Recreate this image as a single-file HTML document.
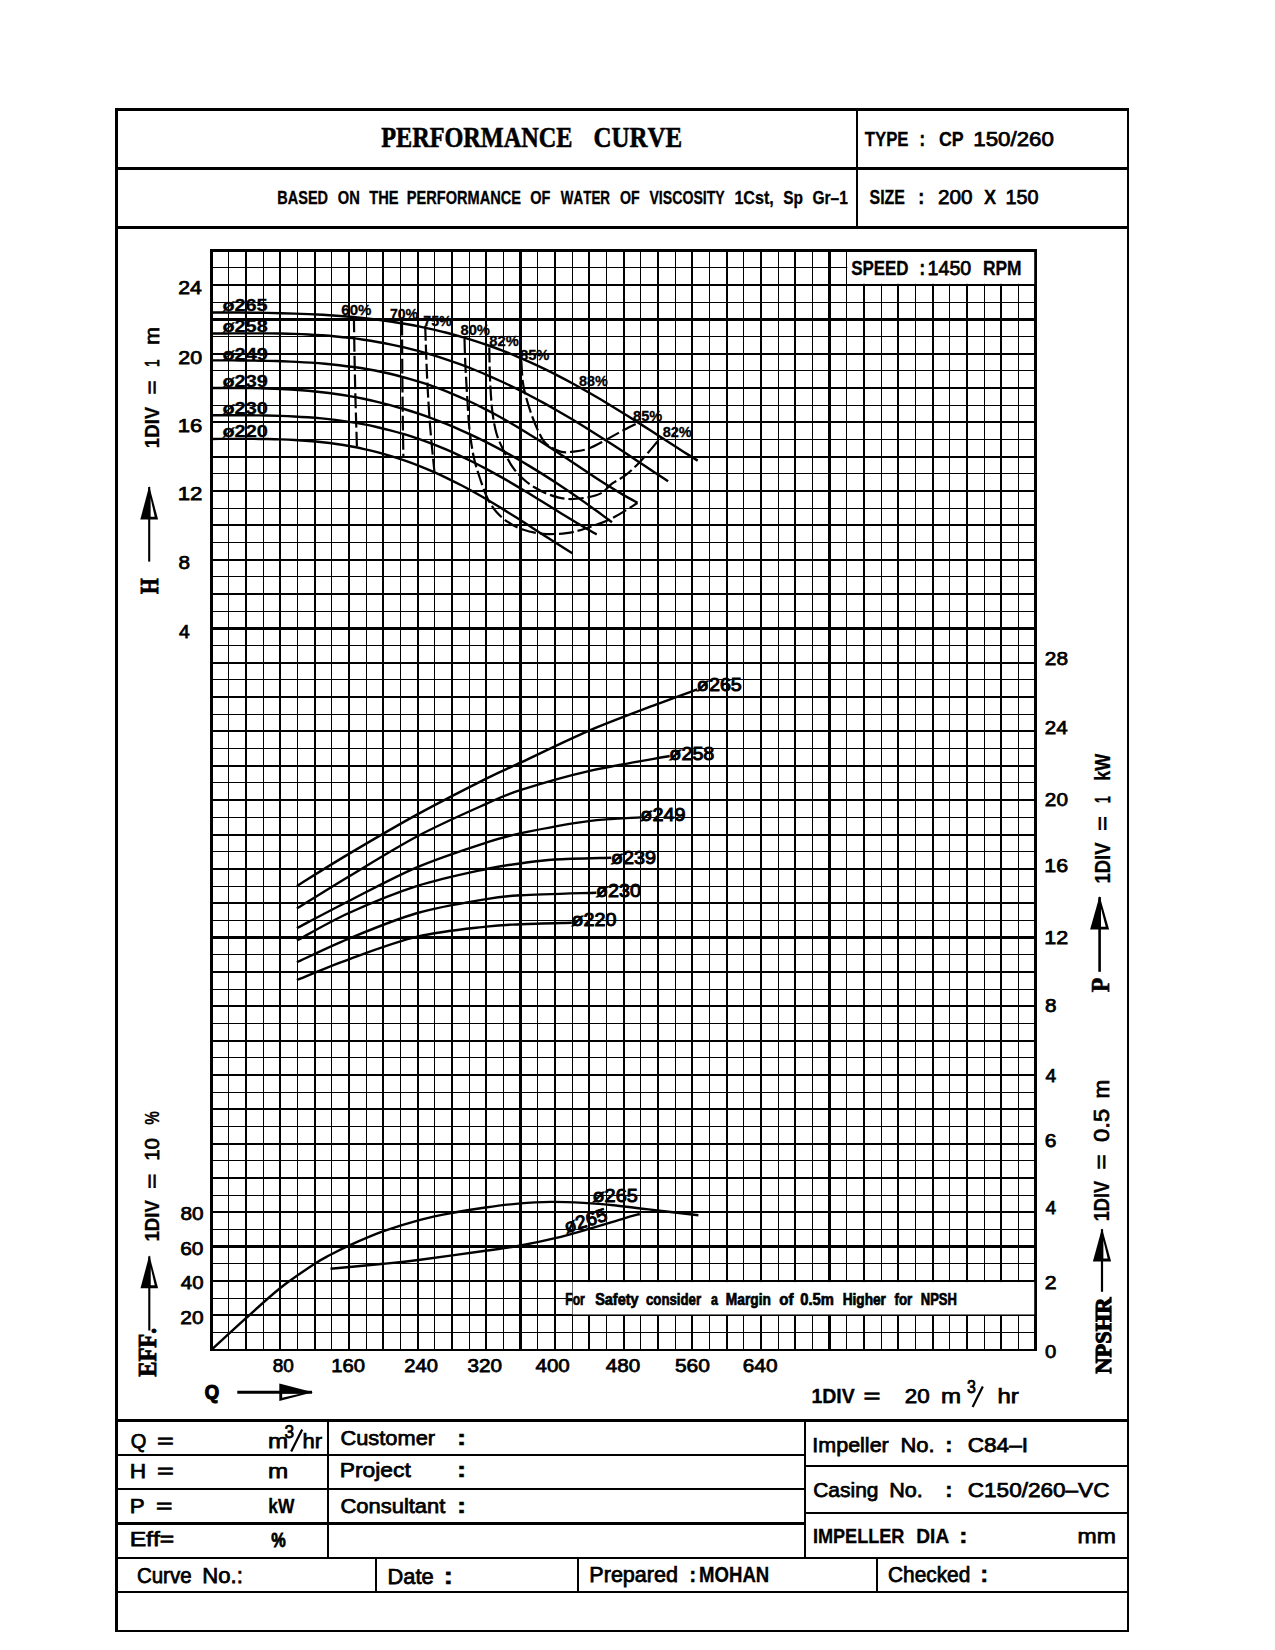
<!DOCTYPE html>
<html lang="en"><head><meta charset="utf-8"><title>Performance Curve CP 150/260</title>
<style>
html,body{margin:0;padding:0;background:#fff;}
body{width:1275px;height:1650px;overflow:hidden;}
svg{display:block;position:absolute;left:0;top:0;}
text{white-space:pre;fill:#000;font-kerning:none;}
.s{font-family:"Liberation Sans",sans-serif;font-weight:400;stroke:#000;stroke-width:0.75px;}
.b{font-family:"Liberation Sans",sans-serif;font-weight:700;stroke:#000;stroke-width:0.3px;}
.r{font-family:"Liberation Serif",serif;font-weight:700;stroke:#000;stroke-width:0.6px;}
.g line,.fr line{stroke:#000;shape-rendering:crispEdges;}
.cv path{stroke:#000;fill:none;stroke-linecap:butt;stroke-linejoin:round;}
</style></head><body>
<svg width="1275" height="1650" viewBox="0 0 1275 1650">
<rect x="0" y="0" width="1275" height="1650" fill="#fff"/>
<g class="fr">
<line x1="116.5" y1="108" x2="116.5" y2="1632" stroke-width="3"/>
<line x1="1128" y1="108" x2="1128" y2="1632" stroke-width="2"/>
<line x1="116.5" y1="109.5" x2="1128" y2="109.5" stroke-width="3"/>
<line x1="116.5" y1="1631" x2="1128" y2="1631" stroke-width="2"/>
<line x1="116.5" y1="168.5" x2="1128" y2="168.5" stroke-width="3"/>
<line x1="116.5" y1="227.5" x2="1128" y2="227.5" stroke-width="3"/>
<line x1="857" y1="109.5" x2="857" y2="227.3" stroke-width="2"/>
<line x1="116.5" y1="1420.5" x2="1128" y2="1420.5" stroke-width="3"/>
<line x1="116.5" y1="1455" x2="805" y2="1455" stroke-width="2"/>
<line x1="116.5" y1="1488.8" x2="805" y2="1488.8" stroke-width="2"/>
<line x1="116.5" y1="1523.4" x2="805" y2="1523.4" stroke-width="2.4"/>
<line x1="116.5" y1="1558.2" x2="1128" y2="1558.2" stroke-width="2"/>
<line x1="116.5" y1="1591.8" x2="1128" y2="1591.8" stroke-width="2"/>
<line x1="805" y1="1465.6" x2="1128" y2="1465.6" stroke-width="2"/>
<line x1="805" y1="1513" x2="1128" y2="1513" stroke-width="2"/>
<line x1="328" y1="1420.6" x2="328" y2="1558.2" stroke-width="2"/>
<line x1="805" y1="1420.6" x2="805" y2="1558.2" stroke-width="2"/>
<line x1="375.7" y1="1558.2" x2="375.7" y2="1591.8" stroke-width="2"/>
<line x1="578" y1="1558.2" x2="578" y2="1591.8" stroke-width="2"/>
<line x1="876.8" y1="1558.2" x2="876.8" y2="1591.8" stroke-width="2"/>
</g>
<g class="g">
<line x1="211.5" y1="249" x2="211.5" y2="1350.8" stroke-width="3"/>
<line x1="228.67" y1="249" x2="228.67" y2="1350.8" stroke-width="1"/>
<line x1="245.84" y1="249" x2="245.84" y2="1350.8" stroke-width="2"/>
<line x1="263.01" y1="249" x2="263.01" y2="1350.8" stroke-width="1"/>
<line x1="280.18" y1="249" x2="280.18" y2="1350.8" stroke-width="2"/>
<line x1="297.35" y1="249" x2="297.35" y2="1350.8" stroke-width="1"/>
<line x1="314.52" y1="249" x2="314.52" y2="1350.8" stroke-width="2"/>
<line x1="331.7" y1="249" x2="331.7" y2="1350.8" stroke-width="1"/>
<line x1="348.87" y1="249" x2="348.87" y2="1350.8" stroke-width="2"/>
<line x1="366.04" y1="249" x2="366.04" y2="1350.8" stroke-width="1"/>
<line x1="383.21" y1="249" x2="383.21" y2="1350.8" stroke-width="2"/>
<line x1="400.38" y1="249" x2="400.38" y2="1350.8" stroke-width="1"/>
<line x1="417.55" y1="249" x2="417.55" y2="1350.8" stroke-width="2"/>
<line x1="434.72" y1="249" x2="434.72" y2="1350.8" stroke-width="1"/>
<line x1="451.89" y1="249" x2="451.89" y2="1350.8" stroke-width="2"/>
<line x1="469.06" y1="249" x2="469.06" y2="1350.8" stroke-width="1"/>
<line x1="486.23" y1="249" x2="486.23" y2="1350.8" stroke-width="2"/>
<line x1="503.4" y1="249" x2="503.4" y2="1350.8" stroke-width="1"/>
<line x1="520.58" y1="249" x2="520.58" y2="1350.8" stroke-width="2.8"/>
<line x1="537.75" y1="249" x2="537.75" y2="1350.8" stroke-width="1"/>
<line x1="554.92" y1="249" x2="554.92" y2="1350.8" stroke-width="2"/>
<line x1="572.09" y1="249" x2="572.09" y2="1350.8" stroke-width="1"/>
<line x1="589.26" y1="249" x2="589.26" y2="1350.8" stroke-width="2"/>
<line x1="606.43" y1="249" x2="606.43" y2="1350.8" stroke-width="1"/>
<line x1="623.6" y1="249" x2="623.6" y2="1350.8" stroke-width="2"/>
<line x1="640.77" y1="249" x2="640.77" y2="1350.8" stroke-width="1"/>
<line x1="657.94" y1="249" x2="657.94" y2="1350.8" stroke-width="2"/>
<line x1="675.11" y1="249" x2="675.11" y2="1350.8" stroke-width="1"/>
<line x1="692.28" y1="249" x2="692.28" y2="1350.8" stroke-width="2"/>
<line x1="709.45" y1="249" x2="709.45" y2="1350.8" stroke-width="1"/>
<line x1="726.62" y1="249" x2="726.62" y2="1350.8" stroke-width="2"/>
<line x1="743.8" y1="249" x2="743.8" y2="1350.8" stroke-width="1"/>
<line x1="760.97" y1="249" x2="760.97" y2="1350.8" stroke-width="2"/>
<line x1="778.14" y1="249" x2="778.14" y2="1350.8" stroke-width="1"/>
<line x1="795.31" y1="249" x2="795.31" y2="1350.8" stroke-width="2"/>
<line x1="812.48" y1="249" x2="812.48" y2="1350.8" stroke-width="1"/>
<line x1="829.65" y1="249" x2="829.65" y2="1350.8" stroke-width="2.8"/>
<line x1="846.82" y1="249" x2="846.82" y2="1350.8" stroke-width="1"/>
<line x1="863.99" y1="249" x2="863.99" y2="1350.8" stroke-width="2"/>
<line x1="881.16" y1="249" x2="881.16" y2="1350.8" stroke-width="1"/>
<line x1="898.33" y1="249" x2="898.33" y2="1350.8" stroke-width="2"/>
<line x1="915.5" y1="249" x2="915.5" y2="1350.8" stroke-width="1"/>
<line x1="932.68" y1="249" x2="932.68" y2="1350.8" stroke-width="2"/>
<line x1="949.85" y1="249" x2="949.85" y2="1350.8" stroke-width="1"/>
<line x1="967.02" y1="249" x2="967.02" y2="1350.8" stroke-width="2"/>
<line x1="984.19" y1="249" x2="984.19" y2="1350.8" stroke-width="1"/>
<line x1="1001.36" y1="249" x2="1001.36" y2="1350.8" stroke-width="2"/>
<line x1="1018.53" y1="249" x2="1018.53" y2="1350.8" stroke-width="1"/>
<line x1="1035.7" y1="249" x2="1035.7" y2="1350.8" stroke-width="3"/>
<line x1="210" y1="250.5" x2="1037.2" y2="250.5" stroke-width="3"/>
<line x1="210" y1="267.68" x2="1037.2" y2="267.68" stroke-width="1"/>
<line x1="210" y1="284.85" x2="1037.2" y2="284.85" stroke-width="2"/>
<line x1="210" y1="302.03" x2="1037.2" y2="302.03" stroke-width="1"/>
<line x1="210" y1="319.21" x2="1037.2" y2="319.21" stroke-width="2.8"/>
<line x1="210" y1="336.38" x2="1037.2" y2="336.38" stroke-width="1"/>
<line x1="210" y1="353.56" x2="1037.2" y2="353.56" stroke-width="2"/>
<line x1="210" y1="370.74" x2="1037.2" y2="370.74" stroke-width="1"/>
<line x1="210" y1="387.91" x2="1037.2" y2="387.91" stroke-width="2"/>
<line x1="210" y1="405.09" x2="1037.2" y2="405.09" stroke-width="1"/>
<line x1="210" y1="422.27" x2="1037.2" y2="422.27" stroke-width="2"/>
<line x1="210" y1="439.44" x2="1037.2" y2="439.44" stroke-width="1"/>
<line x1="210" y1="456.62" x2="1037.2" y2="456.62" stroke-width="2"/>
<line x1="210" y1="473.8" x2="1037.2" y2="473.8" stroke-width="1"/>
<line x1="210" y1="490.97" x2="1037.2" y2="490.97" stroke-width="2"/>
<line x1="210" y1="508.15" x2="1037.2" y2="508.15" stroke-width="1"/>
<line x1="210" y1="525.33" x2="1037.2" y2="525.33" stroke-width="2"/>
<line x1="210" y1="542.5" x2="1037.2" y2="542.5" stroke-width="1"/>
<line x1="210" y1="559.68" x2="1037.2" y2="559.68" stroke-width="2"/>
<line x1="210" y1="576.85" x2="1037.2" y2="576.85" stroke-width="1"/>
<line x1="210" y1="594.03" x2="1037.2" y2="594.03" stroke-width="2"/>
<line x1="210" y1="611.21" x2="1037.2" y2="611.21" stroke-width="1"/>
<line x1="210" y1="628.38" x2="1037.2" y2="628.38" stroke-width="2.8"/>
<line x1="210" y1="645.56" x2="1037.2" y2="645.56" stroke-width="1"/>
<line x1="210" y1="662.74" x2="1037.2" y2="662.74" stroke-width="2"/>
<line x1="210" y1="679.91" x2="1037.2" y2="679.91" stroke-width="1"/>
<line x1="210" y1="697.09" x2="1037.2" y2="697.09" stroke-width="2"/>
<line x1="210" y1="714.27" x2="1037.2" y2="714.27" stroke-width="1"/>
<line x1="210" y1="731.44" x2="1037.2" y2="731.44" stroke-width="2"/>
<line x1="210" y1="748.62" x2="1037.2" y2="748.62" stroke-width="1"/>
<line x1="210" y1="765.8" x2="1037.2" y2="765.8" stroke-width="2"/>
<line x1="210" y1="782.97" x2="1037.2" y2="782.97" stroke-width="1"/>
<line x1="210" y1="800.15" x2="1037.2" y2="800.15" stroke-width="2"/>
<line x1="210" y1="817.33" x2="1037.2" y2="817.33" stroke-width="1"/>
<line x1="210" y1="834.5" x2="1037.2" y2="834.5" stroke-width="2"/>
<line x1="210" y1="851.68" x2="1037.2" y2="851.68" stroke-width="1"/>
<line x1="210" y1="868.86" x2="1037.2" y2="868.86" stroke-width="2"/>
<line x1="210" y1="886.03" x2="1037.2" y2="886.03" stroke-width="1"/>
<line x1="210" y1="903.21" x2="1037.2" y2="903.21" stroke-width="2"/>
<line x1="210" y1="920.39" x2="1037.2" y2="920.39" stroke-width="1"/>
<line x1="210" y1="937.56" x2="1037.2" y2="937.56" stroke-width="2.8"/>
<line x1="210" y1="954.74" x2="1037.2" y2="954.74" stroke-width="1"/>
<line x1="210" y1="971.92" x2="1037.2" y2="971.92" stroke-width="2"/>
<line x1="210" y1="989.09" x2="1037.2" y2="989.09" stroke-width="1"/>
<line x1="210" y1="1006.27" x2="1037.2" y2="1006.27" stroke-width="2"/>
<line x1="210" y1="1023.45" x2="1037.2" y2="1023.45" stroke-width="1"/>
<line x1="210" y1="1040.62" x2="1037.2" y2="1040.62" stroke-width="2"/>
<line x1="210" y1="1057.8" x2="1037.2" y2="1057.8" stroke-width="1"/>
<line x1="210" y1="1074.97" x2="1037.2" y2="1074.97" stroke-width="2"/>
<line x1="210" y1="1092.15" x2="1037.2" y2="1092.15" stroke-width="1"/>
<line x1="210" y1="1109.33" x2="1037.2" y2="1109.33" stroke-width="2"/>
<line x1="210" y1="1126.5" x2="1037.2" y2="1126.5" stroke-width="1"/>
<line x1="210" y1="1143.68" x2="1037.2" y2="1143.68" stroke-width="2"/>
<line x1="210" y1="1160.86" x2="1037.2" y2="1160.86" stroke-width="1"/>
<line x1="210" y1="1178.03" x2="1037.2" y2="1178.03" stroke-width="2"/>
<line x1="210" y1="1195.21" x2="1037.2" y2="1195.21" stroke-width="1"/>
<line x1="210" y1="1212.39" x2="1037.2" y2="1212.39" stroke-width="2"/>
<line x1="210" y1="1229.56" x2="1037.2" y2="1229.56" stroke-width="1"/>
<line x1="210" y1="1246.74" x2="1037.2" y2="1246.74" stroke-width="2.8"/>
<line x1="210" y1="1263.92" x2="1037.2" y2="1263.92" stroke-width="1"/>
<line x1="210" y1="1281.09" x2="1037.2" y2="1281.09" stroke-width="2"/>
<line x1="210" y1="1298.27" x2="1037.2" y2="1298.27" stroke-width="1"/>
<line x1="210" y1="1315.45" x2="1037.2" y2="1315.45" stroke-width="2"/>
<line x1="210" y1="1332.62" x2="1037.2" y2="1332.62" stroke-width="1"/>
<line x1="210" y1="1349.8" x2="1037.2" y2="1349.8" stroke-width="2.2"/>
</g>
<rect x="847.32" y="252" width="186.88" height="31.85" fill="#fff"/>
<rect x="572.59" y="1282.09" width="461.61" height="32.35" fill="#fff"/>
<g class="cv">
<path d="M211.5 312.48C213.82 312.49 220.76 312.49 225.39 312.5C230.02 312.52 234.65 312.54 239.28 312.57C243.91 312.6 248.54 312.64 253.17 312.7C257.8 312.75 262.44 312.81 267.07 312.9C271.7 312.98 276.33 313.07 280.96 313.19C285.59 313.3 290.22 313.43 294.85 313.59C299.48 313.74 304.11 313.92 308.74 314.12C313.37 314.33 318 314.56 322.63 314.82C327.26 315.09 331.89 315.38 336.52 315.71C341.15 316.04 345.78 316.4 350.41 316.81C355.04 317.22 359.68 317.66 364.31 318.16C368.94 318.65 373.57 319.19 378.2 319.78C382.83 320.37 387.46 321.01 392.09 321.71C396.72 322.41 401.35 323.15 405.98 323.97C410.61 324.78 415.24 325.64 419.87 326.58C424.5 327.51 429.13 328.51 433.76 329.57C438.39 330.64 443.02 331.77 447.65 332.97C452.28 334.17 456.92 335.44 461.55 336.79C466.18 338.13 470.81 339.55 475.44 341.04C480.07 342.54 484.7 344.1 489.33 345.75C493.96 347.39 498.59 349.11 503.22 350.91C507.85 352.7 512.48 354.58 517.11 356.53C521.74 358.48 526.37 360.5 531 362.6C535.63 364.7 540.26 366.88 544.89 369.12C549.52 371.37 554.16 373.69 558.79 376.08C563.42 378.47 568.05 380.93 572.68 383.45C577.31 385.96 581.94 388.55 586.57 391.19C591.2 393.83 595.83 396.54 600.46 399.28C605.09 402.03 609.72 404.84 614.35 407.68C618.98 410.51 623.61 413.4 628.24 416.31C632.87 419.22 637.5 422.17 642.13 425.13C646.76 428.09 651.4 431.08 656.03 434.06C660.66 437.04 665.29 440.04 669.92 443.02C674.55 445.99 679.18 448.97 683.81 451.91C688.44 454.84 695.38 459.17 697.7 460.62" stroke-width="2.4"/>
<path d="M211.5 333.49C213.81 333.48 220.72 333.47 225.34 333.45C229.95 333.43 234.56 333.4 239.17 333.38C243.78 333.36 248.4 333.34 253.01 333.34C257.62 333.34 262.23 333.34 266.85 333.38C271.46 333.41 276.07 333.46 280.68 333.55C285.29 333.63 289.91 333.74 294.52 333.9C299.13 334.05 303.74 334.23 308.35 334.47C312.97 334.7 317.58 334.98 322.19 335.31C326.8 335.64 331.42 336.01 336.03 336.44C340.64 336.88 345.25 337.37 349.86 337.92C354.48 338.47 359.09 339.08 363.7 339.75C368.31 340.43 372.92 341.17 377.54 341.98C382.15 342.79 386.76 343.66 391.37 344.61C395.98 345.56 400.6 346.58 405.21 347.68C409.82 348.77 414.43 349.94 419.05 351.18C423.66 352.42 428.27 353.74 432.88 355.14C437.49 356.53 442.11 358 446.72 359.55C451.33 361.1 455.94 362.72 460.55 364.42C465.17 366.13 469.78 367.9 474.39 369.76C479 371.61 483.62 373.54 488.23 375.54C492.84 377.54 497.45 379.62 502.06 381.76C506.68 383.91 511.29 386.13 515.9 388.41C520.51 390.7 525.12 393.05 529.74 395.47C534.35 397.89 538.96 400.37 543.57 402.91C548.18 405.45 552.8 408.06 557.41 410.71C562.02 413.37 566.63 416.08 571.25 418.84C575.86 421.6 580.47 424.41 585.08 427.26C589.69 430.1 594.31 433 598.92 435.93C603.53 438.85 608.14 441.81 612.75 444.8C617.37 447.78 621.98 450.8 626.59 453.83C631.2 456.86 635.82 459.91 640.43 462.96C645.04 466.02 649.65 469.09 654.26 472.14C658.88 475.2 665.79 479.78 668.1 481.31" stroke-width="2.4"/>
<path d="M211.5 360.36C213.87 360.37 220.97 360.37 225.7 360.38C230.43 360.4 235.17 360.42 239.9 360.46C244.63 360.5 249.37 360.54 254.1 360.61C258.83 360.68 263.57 360.76 268.3 360.87C273.03 360.98 277.77 361.1 282.5 361.27C287.23 361.43 291.97 361.62 296.7 361.85C301.43 362.09 306.17 362.35 310.9 362.67C315.63 362.99 320.37 363.35 325.1 363.78C329.83 364.2 334.57 364.67 339.3 365.21C344.03 365.75 348.77 366.35 353.5 367.03C358.23 367.71 362.97 368.45 367.7 369.28C372.43 370.11 377.17 371.01 381.9 372.01C386.63 373 391.37 374.08 396.1 375.25C400.83 376.43 405.57 377.69 410.3 379.06C415.03 380.42 419.77 381.88 424.5 383.44C429.23 385.01 433.97 386.67 438.7 388.44C443.43 390.2 448.17 392.07 452.9 394.05C457.63 396.02 462.37 398.1 467.1 400.28C471.83 402.46 476.57 404.74 481.3 407.11C486.03 409.49 490.77 411.97 495.5 414.53C500.23 417.09 504.97 419.76 509.7 422.49C514.43 425.22 519.17 428.05 523.9 430.94C528.63 433.82 533.37 436.79 538.1 439.79C542.83 442.8 547.57 445.87 552.3 448.96C557.03 452.06 561.77 455.2 566.5 458.34C571.23 461.48 575.97 464.65 580.7 467.79C585.43 470.92 590.17 474.07 594.9 477.15C599.63 480.22 604.37 483.29 609.1 486.23C613.83 489.18 618.57 492.09 623.3 494.84C628.03 497.59 635.13 501.42 637.5 502.73" stroke-width="2.4"/>
<path d="M211.5 387.98C213.8 387.98 220.71 387.97 225.31 387.98C229.91 387.99 234.52 387.99 239.12 388.01C243.72 388.04 248.33 388.08 252.93 388.15C257.53 388.23 262.14 388.32 266.74 388.45C271.34 388.59 275.95 388.75 280.55 388.96C285.16 389.18 289.76 389.43 294.36 389.73C298.97 390.04 303.57 390.39 308.17 390.81C312.78 391.22 317.38 391.69 321.98 392.22C326.59 392.75 331.19 393.34 335.79 394C340.4 394.66 345 395.38 349.6 396.18C354.21 396.98 358.81 397.84 363.41 398.78C368.02 399.72 372.62 400.73 377.22 401.82C381.83 402.91 386.43 404.07 391.03 405.31C395.64 406.55 400.24 407.87 404.84 409.26C409.45 410.66 414.05 412.14 418.66 413.69C423.26 415.25 427.86 416.88 432.47 418.59C437.07 420.31 441.67 422.1 446.28 423.97C450.88 425.84 455.48 427.79 460.09 429.82C464.69 431.85 469.29 433.95 473.9 436.14C478.5 438.32 483.1 440.58 487.71 442.91C492.31 445.25 496.91 447.66 501.52 450.14C506.12 452.62 510.72 455.18 515.33 457.81C519.93 460.43 524.53 463.13 529.14 465.89C533.74 468.66 538.34 471.49 542.95 474.39C547.55 477.29 552.16 480.25 556.76 483.27C561.36 486.3 565.97 489.39 570.57 492.53C575.17 495.67 579.78 498.88 584.38 502.14C588.98 505.39 593.59 508.71 598.19 512.07C602.79 515.44 609.7 520.61 612 522.32" stroke-width="2.4"/>
<path d="M211.5 415.21C213.79 415.21 220.67 415.2 225.26 415.2C229.84 415.21 234.43 415.21 239.01 415.23C243.6 415.25 248.19 415.27 252.77 415.31C257.36 415.36 261.94 415.42 266.53 415.51C271.11 415.61 275.7 415.72 280.29 415.88C284.87 416.03 289.46 416.21 294.04 416.45C298.63 416.68 303.21 416.95 307.8 417.28C312.39 417.61 316.97 417.98 321.56 418.42C326.14 418.86 330.73 419.35 335.31 419.92C339.9 420.48 344.49 421.11 349.07 421.82C353.66 422.52 358.24 423.3 362.83 424.16C367.41 425.02 372 425.96 376.59 426.99C381.17 428.02 385.76 429.13 390.34 430.33C394.93 431.53 399.51 432.82 404.1 434.21C408.69 435.59 413.27 437.07 417.86 438.64C422.44 440.21 427.03 441.88 431.61 443.64C436.2 445.4 440.79 447.25 445.37 449.2C449.96 451.14 454.54 453.18 459.13 455.31C463.71 457.43 468.3 459.65 472.89 461.95C477.47 464.24 482.06 466.63 486.64 469.08C491.23 471.53 495.81 474.06 500.4 476.65C504.99 479.23 509.57 481.9 514.16 484.59C518.74 487.29 523.33 490.06 527.91 492.84C532.5 495.62 537.09 498.46 541.67 501.29C546.26 504.11 550.84 506.98 555.43 509.82C560.01 512.65 564.6 515.51 569.19 518.3C573.77 521.1 578.36 523.89 582.94 526.59C587.53 529.29 594.41 533.18 596.7 534.5" stroke-width="2.4"/>
<path d="M211.5 438.93C213.81 438.93 220.75 438.92 225.38 438.91C230 438.9 234.63 438.87 239.25 438.87C243.88 438.87 248.51 438.87 253.13 438.9C257.76 438.93 262.38 438.97 267.01 439.05C271.63 439.14 276.26 439.24 280.88 439.4C285.51 439.56 290.14 439.76 294.76 440.02C299.39 440.27 304.01 440.58 308.64 440.96C313.26 441.33 317.89 441.77 322.52 442.28C327.14 442.8 331.77 443.38 336.39 444.05C341.02 444.72 345.64 445.46 350.27 446.3C354.89 447.14 359.52 448.06 364.15 449.09C368.77 450.11 373.4 451.23 378.02 452.44C382.65 453.66 387.27 454.97 391.9 456.39C396.53 457.81 401.15 459.33 405.78 460.95C410.4 462.58 415.03 464.31 419.65 466.14C424.28 467.97 428.91 469.9 433.53 471.93C438.16 473.97 442.78 476.1 447.41 478.33C452.03 480.56 456.66 482.89 461.28 485.3C465.91 487.71 470.54 490.22 475.16 492.8C479.79 495.38 484.41 498.05 489.04 500.77C493.66 503.49 498.29 506.3 502.92 509.14C507.54 511.98 512.17 514.89 516.79 517.82C521.42 520.74 526.04 523.73 530.67 526.7C535.29 529.67 539.92 532.68 544.55 535.65C549.17 538.62 553.8 541.61 558.42 544.53C563.05 547.45 569.99 551.74 572.3 553.18" stroke-width="2.4"/>
<path d="M353.9 317.5C354.02 324.58 354.33 346.25 354.6 360C354.87 373.75 355.12 385.67 355.5 400C355.88 414.33 356.67 438.33 356.9 446" stroke-width="2.2" stroke-dasharray="15 4"/>
<path d="M402 320.6C402.05 328.83 402.17 353.43 402.3 370C402.43 386.57 402.62 405.33 402.8 420C402.98 434.67 403.3 451.67 403.4 458" stroke-width="2.2" stroke-dasharray="15 4"/>
<path d="M425.2 325.7C425.5 333.92 426.2 358.45 427 375C427.8 391.55 428.77 408.92 430 425C431.23 441.08 433.67 463.75 434.4 471.5" stroke-width="2.2" stroke-dasharray="15 4"/>
<path d="M464.5 338.9C464.63 343.02 464.8 353.17 465.3 363.6C465.8 374.03 466.78 390.35 467.5 401.5C468.22 412.65 468.52 421.05 469.6 430.5C470.68 439.95 472.18 449.95 474 458.2C475.82 466.45 478.2 473.22 480.5 480C482.8 486.78 485.13 493.57 487.8 498.9C490.47 504.23 493.1 508.12 496.5 512C499.9 515.88 503.83 519.28 508.2 522.2C512.57 525.12 516.88 527.57 522.7 529.5C528.52 531.43 535.82 533.2 543.1 533.8C550.38 534.4 559.33 533.98 566.4 533.1C573.47 532.22 577.9 530.97 585.5 528.5C593.1 526.03 603.33 522.55 612 518.3C620.67 514.05 633.25 505.55 637.5 503" stroke-width="2.2" stroke-dasharray="15 4"/>
<path d="M489.3 347.6C489.42 352.7 489.52 367.77 490 378.2C490.48 388.63 491.12 400.98 492.2 410.2C493.28 419.42 494.57 426.72 496.5 433.5C498.43 440.28 501.13 445.33 503.8 450.9C506.47 456.47 509.35 462.3 512.5 466.9C515.65 471.5 519.05 475.1 522.7 478.5C526.35 481.9 530.03 484.63 534.4 487.3C538.77 489.97 543.57 492.57 548.9 494.5C554.23 496.43 560.1 498.4 566.4 498.9C572.7 499.4 580.88 498.47 586.7 497.5C592.52 496.53 597.08 495.42 601.3 493.1C605.52 490.78 608 486.55 612 483.6C616 480.65 620.53 479.13 625.3 475.4C630.07 471.67 635 467.13 640.6 461.2C646.2 455.27 655.5 443.72 658.9 439.8C662.3 435.88 660.65 438.05 661 437.7" stroke-width="2.2" stroke-dasharray="15 4"/>
<path d="M521.3 360.7C521.53 364.1 521.98 375.28 522.7 381.1C523.42 386.92 524.13 390.03 525.6 395.6C527.07 401.17 529.32 408.43 531.5 414.5C533.68 420.57 536.28 427.17 538.7 432C541.12 436.83 542.37 440.23 546 443.5C549.63 446.77 555.9 450.25 560.5 451.6C565.1 452.95 568.98 452.08 573.6 451.6C578.22 451.12 582.82 450.65 588.2 448.7C593.58 446.75 599.9 443.07 605.9 439.9C611.9 436.73 618.77 432.6 624.2 429.7C629.63 426.8 636.12 423.7 638.5 422.5" stroke-width="2.2" stroke-dasharray="15 4"/>
<path d="M296.9 885.9C305.57 880.57 328.82 865.82 348.9 853.9C368.98 841.98 394.5 826.95 417.4 814.4C440.3 801.85 469.03 787.27 486.3 778.6C503.57 769.93 503.93 770.37 521 762.4C538.07 754.43 566.12 740.47 588.7 730.8C611.28 721.13 638.42 711.3 656.5 704.4C674.58 697.5 690.42 691.9 697.2 689.4" stroke-width="2.4"/>
<path d="M296.9 908.5C305.57 903.17 328.82 888.55 348.9 876.5C368.98 864.45 394.5 848.32 417.4 836.2C440.3 824.08 469.03 811.52 486.3 803.8C503.57 796.08 503.93 795.35 521 789.9C538.07 784.45 563.92 776.75 588.7 771.1C613.48 765.45 656.2 758.52 669.7 756" stroke-width="2.4"/>
<path d="M296.9 928.1C305.57 923.58 328.82 911.17 348.9 901C368.98 890.83 394.5 876.83 417.4 867.1C440.3 857.37 469.03 848.25 486.3 842.6C503.57 836.95 503.93 836.78 521 833.2C538.07 829.62 568.75 823.73 588.7 821.1C608.65 818.47 632.03 818.02 640.7 817.4" stroke-width="2.4"/>
<path d="M296.9 940.5C305.57 935.92 328.82 922.1 348.9 913C368.98 903.9 394.5 893.23 417.4 885.9C440.3 878.57 469.03 872.77 486.3 869C503.57 865.23 509.58 864.88 521 863.3C532.42 861.72 539.75 860.43 554.8 859.5C569.85 858.57 601.88 858 611.3 857.7" stroke-width="2.4"/>
<path d="M296.9 962.3C305.57 958.35 328.82 946.82 348.9 938.6C368.98 930.38 394.5 919.58 417.4 913C440.3 906.42 469.03 902.05 486.3 899.1C503.57 896.15 502.67 896.37 521 895.3C539.33 894.23 583.75 893.13 596.3 892.7" stroke-width="2.4"/>
<path d="M296.9 980C305.57 976.55 328.82 966.52 348.9 959.3C368.98 952.08 394.5 942.15 417.4 936.7C440.3 931.25 469.03 928.67 486.3 926.6C503.57 924.53 506.75 924.93 521 924.3C535.25 923.67 563.33 923.05 571.8 922.8" stroke-width="2.4"/>
<path d="M211.5 1349.8C217.25 1344.53 234.58 1328.47 246 1318.2C257.42 1307.93 268.67 1297.2 280 1288.2C291.33 1279.2 305.67 1269.73 314 1264.2C322.33 1258.67 324.18 1258.1 330 1255C335.82 1251.9 339.98 1249.57 348.9 1245.6C357.82 1241.63 371.62 1235.5 383.5 1231.2C395.38 1226.9 408.63 1222.87 420.2 1219.8C431.77 1216.73 442.02 1214.85 452.9 1212.8C463.78 1210.75 474.63 1209.03 485.5 1207.5C496.37 1205.97 507.23 1204.53 518.1 1203.6C528.97 1202.67 539.82 1202.02 550.7 1201.9C561.58 1201.78 572.52 1202.3 583.4 1202.9C594.28 1203.5 605.13 1204.42 616 1205.5C626.87 1206.58 634.87 1207.78 648.6 1209.4C662.33 1211.02 690.1 1214.23 698.4 1215.2" stroke-width="2.4"/>
<path d="M330.5 1268.7C339.33 1267.88 368.55 1265.3 383.5 1263.8C398.45 1262.3 403.2 1261.88 420.2 1259.7C437.2 1257.52 469.18 1252.98 485.5 1250.7C501.82 1248.42 506.48 1248.08 518.1 1246C529.72 1243.92 543.27 1241.08 555.2 1238.2C567.13 1235.32 578.2 1232.02 589.7 1228.7C601.2 1225.38 615.85 1220.75 624.2 1218.3C632.55 1215.85 637.2 1214.72 639.8 1214" stroke-width="2.4"/>
</g>
<g transform="translate(149.2 486) rotate(0)">
<path d="M0 0L-8.9 33.6L8.9 33.6Z" fill="#000"/>
<path d="M1.3 12.1L1.3 30.7L5.5 30.7Z" fill="#fff"/>
<line x1="0" y1="1" x2="0" y2="75.6" stroke="#000" stroke-width="2.1"/>
</g>
<g transform="translate(149.3 1255.3) rotate(0)">
<path d="M0 0L-8.8 32.9L8.8 32.9Z" fill="#000"/>
<path d="M1.3 11.84L1.3 30L5.4 30Z" fill="#fff"/>
<line x1="0" y1="1" x2="0" y2="75.2" stroke="#000" stroke-width="2.1"/>
</g>
<g transform="translate(1099.6 896.1) rotate(0)">
<path d="M0 0L-9.5 33.5L9.5 33.5Z" fill="#000"/>
<path d="M1.3 12.06L1.3 30.6L6.1 30.6Z" fill="#fff"/>
<line x1="0" y1="1" x2="0" y2="75.7" stroke="#000" stroke-width="2.6"/>
</g>
<g transform="translate(1102 1228.2) rotate(0)">
<path d="M0 0L-9.1 33.2L9.1 33.2Z" fill="#000"/>
<path d="M1.3 11.95L1.3 30.3L5.7 30.3Z" fill="#fff"/>
<line x1="0" y1="1" x2="0" y2="63.6" stroke="#000" stroke-width="2.2"/>
</g>
<g transform="translate(313 1392.3) rotate(90)">
<path d="M0 0L-8.8 33.7L8.8 33.7Z" fill="#000"/>
<path d="M1.3 12.13L1.3 30.8L5.4 30.8Z" fill="#fff"/>
<line x1="0" y1="1" x2="0" y2="75.7" stroke="#000" stroke-width="3"/>
</g>
<g>
<text x="381.13" y="147.4" class="r" font-size="29.3" textLength="191.38" lengthAdjust="spacingAndGlyphs">PERFORMANCE</text>
<text x="593.52" y="147.4" class="r" font-size="29.3" textLength="88.72" lengthAdjust="spacingAndGlyphs">CURVE</text>
<text x="277.35" y="203.7" class="b" font-size="18.3" textLength="50.74" lengthAdjust="spacingAndGlyphs">BASED</text>
<text x="337.72" y="203.7" class="b" font-size="18.3" textLength="22.05" lengthAdjust="spacingAndGlyphs">ON</text>
<text x="369.25" y="203.7" class="b" font-size="18.3" textLength="29.4" lengthAdjust="spacingAndGlyphs">THE</text>
<text x="406.74" y="203.7" class="b" font-size="18.3" textLength="114.31" lengthAdjust="spacingAndGlyphs">PERFORMANCE</text>
<text x="530.22" y="203.7" class="b" font-size="18.3" textLength="20.19" lengthAdjust="spacingAndGlyphs">OF</text>
<text x="560.81" y="203.7" class="b" font-size="18.3" textLength="49.25" lengthAdjust="spacingAndGlyphs">WATER</text>
<text x="620.04" y="203.7" class="b" font-size="18.3" textLength="19.66" lengthAdjust="spacingAndGlyphs">OF</text>
<text x="649.42" y="203.7" class="b" font-size="18.3" textLength="75.38" lengthAdjust="spacingAndGlyphs">VISCOSITY</text>
<text x="734.4" y="203.7" class="b" font-size="18.3" textLength="39.46" lengthAdjust="spacingAndGlyphs">1Cst,</text>
<text x="783.17" y="203.7" class="b" font-size="18.3" textLength="19.74" lengthAdjust="spacingAndGlyphs">Sp</text>
<text x="812.38" y="203.7" class="b" font-size="18.3" textLength="35.43" lengthAdjust="spacingAndGlyphs">Gr–1</text>
<text x="864.73" y="146" class="b" font-size="20.66" textLength="43.8" lengthAdjust="spacingAndGlyphs">TYPE</text>
<text x="919.37" y="146" class="b" font-size="21.9" textLength="6.06" lengthAdjust="spacingAndGlyphs">:</text>
<text x="938.89" y="146" class="b" font-size="20.66" textLength="24.8" lengthAdjust="spacingAndGlyphs">CP</text>
<text x="973.3" y="146" class="s" font-size="20.66" textLength="80.57" lengthAdjust="spacingAndGlyphs">150/260</text>
<text x="869.56" y="204.1" class="b" font-size="20.66" textLength="35.44" lengthAdjust="spacingAndGlyphs">SIZE</text>
<text x="917.93" y="204.1" class="b" font-size="21.9" textLength="6.54" lengthAdjust="spacingAndGlyphs">:</text>
<text x="937.96" y="204.1" class="s" font-size="20.66" textLength="34.55" lengthAdjust="spacingAndGlyphs">200</text>
<text x="983.96" y="204.1" class="b" font-size="20.66" textLength="12.08" lengthAdjust="spacingAndGlyphs">X</text>
<text x="1005.49" y="204.1" class="s" font-size="20.66" textLength="33.09" lengthAdjust="spacingAndGlyphs">150</text>
<text x="851.13" y="274.8" class="b" font-size="20.66" textLength="57.46" lengthAdjust="spacingAndGlyphs">SPEED</text>
<text x="919.37" y="274.8" class="b" font-size="21.9" textLength="6.06" lengthAdjust="spacingAndGlyphs">:</text>
<text x="927.61" y="274.8" class="s" font-size="20.66" textLength="43.56" lengthAdjust="spacingAndGlyphs">1450</text>
<text x="982.96" y="274.8" class="b" font-size="20.66" textLength="38.58" lengthAdjust="spacingAndGlyphs">RPM</text>
<text x="178.33" y="294.4" class="s" font-size="18.74" textLength="23.59" lengthAdjust="spacingAndGlyphs">24</text>
<text x="178.32" y="363.5" class="s" font-size="18.74" textLength="23.81" lengthAdjust="spacingAndGlyphs">20</text>
<text x="177.72" y="431.8" class="s" font-size="18.74" textLength="24.55" lengthAdjust="spacingAndGlyphs">16</text>
<text x="177.71" y="500.4" class="s" font-size="18.74" textLength="24.71" lengthAdjust="spacingAndGlyphs">12</text>
<text x="178.5" y="568.8" class="s" font-size="18.74" textLength="11.5" lengthAdjust="spacingAndGlyphs">8</text>
<text x="178.96" y="637.9" class="s" font-size="18.74" textLength="10.71" lengthAdjust="spacingAndGlyphs">4</text>
<text x="1044.85" y="665.2" class="s" font-size="18.74" textLength="23.15" lengthAdjust="spacingAndGlyphs">28</text>
<text x="1044.87" y="733.8" class="s" font-size="18.74" textLength="22.83" lengthAdjust="spacingAndGlyphs">24</text>
<text x="1044.86" y="805.8" class="s" font-size="18.74" textLength="23.05" lengthAdjust="spacingAndGlyphs">20</text>
<text x="1044.27" y="872.4" class="s" font-size="18.74" textLength="23.77" lengthAdjust="spacingAndGlyphs">16</text>
<text x="1044.26" y="944.4" class="s" font-size="18.74" textLength="23.92" lengthAdjust="spacingAndGlyphs">12</text>
<text x="1045" y="1012.3" class="s" font-size="18.74" textLength="11.5" lengthAdjust="spacingAndGlyphs">8</text>
<text x="1045.46" y="1081.8" class="s" font-size="18.74" textLength="10.71" lengthAdjust="spacingAndGlyphs">4</text>
<text x="1044.83" y="1147.3" class="s" font-size="18.74" textLength="11.69" lengthAdjust="spacingAndGlyphs">6</text>
<text x="1045.46" y="1213.9" class="s" font-size="18.74" textLength="10.71" lengthAdjust="spacingAndGlyphs">4</text>
<text x="1044.83" y="1289.1" class="s" font-size="18.74" textLength="11.84" lengthAdjust="spacingAndGlyphs">2</text>
<text x="1045.11" y="1357.5" class="s" font-size="18.74" textLength="11.29" lengthAdjust="spacingAndGlyphs">0</text>
<text x="180.4" y="1220.2" class="s" font-size="18.74" textLength="23.11" lengthAdjust="spacingAndGlyphs">80</text>
<text x="180.24" y="1254.6" class="s" font-size="18.74" textLength="23.28" lengthAdjust="spacingAndGlyphs">60</text>
<text x="180.83" y="1289" class="s" font-size="18.74" textLength="22.66" lengthAdjust="spacingAndGlyphs">40</text>
<text x="180.25" y="1323.6" class="s" font-size="18.74" textLength="23.27" lengthAdjust="spacingAndGlyphs">20</text>
<text x="272.68" y="1372.2" class="s" font-size="18.74" textLength="21.06" lengthAdjust="spacingAndGlyphs">80</text>
<text x="331.36" y="1372.2" class="s" font-size="18.74" textLength="33.73" lengthAdjust="spacingAndGlyphs">160</text>
<text x="404.29" y="1372.2" class="s" font-size="18.74" textLength="33.6" lengthAdjust="spacingAndGlyphs">240</text>
<text x="467.41" y="1372.2" class="s" font-size="18.74" textLength="34.5" lengthAdjust="spacingAndGlyphs">320</text>
<text x="535.53" y="1372.2" class="s" font-size="18.74" textLength="34.27" lengthAdjust="spacingAndGlyphs">400</text>
<text x="605.83" y="1372.2" class="s" font-size="18.74" textLength="34.38" lengthAdjust="spacingAndGlyphs">480</text>
<text x="674.96" y="1372.2" class="s" font-size="18.74" textLength="34.96" lengthAdjust="spacingAndGlyphs">560</text>
<text x="742.74" y="1372.2" class="s" font-size="18.74" textLength="34.77" lengthAdjust="spacingAndGlyphs">640</text>
<text class="b" font-size="20.4" textLength="41.57" lengthAdjust="spacingAndGlyphs" transform="translate(158.9 448.26) rotate(-90)">1DIV</text>
<text class="s" font-size="20.4" textLength="13.94" lengthAdjust="spacingAndGlyphs" transform="translate(158.9 394.47) rotate(-90)">=</text>
<text class="s" font-size="20.4" textLength="7.61" lengthAdjust="spacingAndGlyphs" transform="translate(158.9 366.94) rotate(-90)">1</text>
<text class="s" font-size="20.4" textLength="17.71" lengthAdjust="spacingAndGlyphs" transform="translate(158.9 344.81) rotate(-90)">m</text>
<text class="b" font-size="21" textLength="41.57" lengthAdjust="spacingAndGlyphs" transform="translate(159.1 1241.56) rotate(-90)">1DIV</text>
<text class="s" font-size="21" textLength="15.15" lengthAdjust="spacingAndGlyphs" transform="translate(159.1 1188.67) rotate(-90)">=</text>
<text class="s" font-size="21" textLength="22.65" lengthAdjust="spacingAndGlyphs" transform="translate(159.1 1160.75) rotate(-90)">10</text>
<text class="b" font-size="21" textLength="13.65" lengthAdjust="spacingAndGlyphs" transform="translate(159.1 1124.76) rotate(-90)">%</text>
<text class="b" font-size="21.6" textLength="41.05" lengthAdjust="spacingAndGlyphs" transform="translate(1109.8 883.54) rotate(-90)">1DIV</text>
<text class="s" font-size="21.6" textLength="14.54" lengthAdjust="spacingAndGlyphs" transform="translate(1109.8 830.72) rotate(-90)">=</text>
<text class="s" font-size="21.6" textLength="7.22" lengthAdjust="spacingAndGlyphs" transform="translate(1109.8 803.29) rotate(-90)">1</text>
<text class="b" font-size="21.6" textLength="26.93" lengthAdjust="spacingAndGlyphs" transform="translate(1109.8 780.83) rotate(-90)">kW</text>
<text class="b" font-size="21.6" textLength="40.53" lengthAdjust="spacingAndGlyphs" transform="translate(1108.8 1221.33) rotate(-90)">1DIV</text>
<text class="s" font-size="21.6" textLength="15.03" lengthAdjust="spacingAndGlyphs" transform="translate(1108.8 1169.56) rotate(-90)">=</text>
<text class="s" font-size="21.6" textLength="33.24" lengthAdjust="spacingAndGlyphs" transform="translate(1108.8 1142.03) rotate(-90)">0.5</text>
<text class="s" font-size="21.6" textLength="18.78" lengthAdjust="spacingAndGlyphs" transform="translate(1108.8 1098.4) rotate(-90)">m</text>
<text class="r" font-size="25" textLength="15.66" lengthAdjust="spacingAndGlyphs" style="stroke-width:0.9px" transform="translate(157.6 593.88) rotate(-90)">H</text>
<text class="r" font-size="24.3" textLength="48.87" lengthAdjust="spacingAndGlyphs" style="stroke-width:0.9px" transform="translate(156 1376.83) rotate(-90)">EFF.</text>
<text class="r" font-size="25" textLength="14.61" lengthAdjust="spacingAndGlyphs" style="stroke-width:0.6px" transform="translate(1108.8 992.17) rotate(-90)">P</text>
<text class="r" font-size="23.2" textLength="76.15" lengthAdjust="spacingAndGlyphs" style="stroke-width:1.1px" transform="translate(1111.3 1373.69) rotate(-90)">NPSHR</text>
<text x="204.82" y="1398.6" class="b" font-size="19.6" textLength="14.37" lengthAdjust="spacingAndGlyphs" style="stroke-width:1.2px">Q</text>
<text x="222.41" y="310.7" class="b" font-size="17" textLength="45.22" lengthAdjust="spacingAndGlyphs">ø265</text>
<text x="222.41" y="331.6" class="b" font-size="17" textLength="45.28" lengthAdjust="spacingAndGlyphs">ø258</text>
<text x="222.41" y="360.2" class="b" font-size="17" textLength="45.41" lengthAdjust="spacingAndGlyphs">ø249</text>
<text x="222.41" y="386.8" class="b" font-size="17" textLength="45.41" lengthAdjust="spacingAndGlyphs">ø239</text>
<text x="222.41" y="413.6" class="b" font-size="17" textLength="45.49" lengthAdjust="spacingAndGlyphs">ø230</text>
<text x="222.41" y="437.2" class="b" font-size="17" textLength="45.49" lengthAdjust="spacingAndGlyphs">ø220</text>
<text x="341.27" y="314.6" class="b" font-size="15" textLength="30.11" lengthAdjust="spacingAndGlyphs">60%</text>
<text x="389.92" y="318.6" class="b" font-size="15" textLength="28.13" lengthAdjust="spacingAndGlyphs">70%</text>
<text x="423.31" y="325.7" class="b" font-size="15" textLength="28.34" lengthAdjust="spacingAndGlyphs">75%</text>
<text x="460.45" y="335" class="b" font-size="15" textLength="29.52" lengthAdjust="spacingAndGlyphs">80%</text>
<text x="489.35" y="345.9" class="b" font-size="15" textLength="29.41" lengthAdjust="spacingAndGlyphs">82%</text>
<text x="519.95" y="360" class="b" font-size="15" textLength="29.52" lengthAdjust="spacingAndGlyphs">85%</text>
<text x="579.06" y="385.8" class="b" font-size="15" textLength="28.69" lengthAdjust="spacingAndGlyphs">88%</text>
<text x="633.06" y="420.5" class="b" font-size="15" textLength="29.21" lengthAdjust="spacingAndGlyphs">85%</text>
<text x="662.66" y="437.2" class="b" font-size="15" textLength="29.1" lengthAdjust="spacingAndGlyphs">82%</text>
<text x="696.88" y="691.1" class="s" font-size="18.6" textLength="44.95" lengthAdjust="spacingAndGlyphs" style="stroke-width:1px">ø265</text>
<text x="669.38" y="760" class="s" font-size="18.6" textLength="44.98" lengthAdjust="spacingAndGlyphs" style="stroke-width:1px">ø258</text>
<text x="640.38" y="821" class="s" font-size="18.6" textLength="45.06" lengthAdjust="spacingAndGlyphs" style="stroke-width:1px">ø249</text>
<text x="610.98" y="864.3" class="s" font-size="18.6" textLength="45.06" lengthAdjust="spacingAndGlyphs" style="stroke-width:1px">ø239</text>
<text x="595.98" y="897.1" class="s" font-size="18.6" textLength="44.89" lengthAdjust="spacingAndGlyphs" style="stroke-width:1px">ø230</text>
<text x="571.48" y="925.7" class="s" font-size="18.6" textLength="44.89" lengthAdjust="spacingAndGlyphs" style="stroke-width:1px">ø220</text>
<text x="592.47" y="1201.6" class="s" font-size="18.6" textLength="45.26" lengthAdjust="spacingAndGlyphs" style="stroke-width:1px">ø265</text>
<text class="s" font-size="18.6" textLength="44" lengthAdjust="spacingAndGlyphs" style="stroke-width:1px" transform="translate(566.5 1233.3) rotate(-17.5)">ø265</text>
<text x="565.27" y="1304.8" class="b" font-size="15.7" textLength="19.53" lengthAdjust="spacingAndGlyphs" style="stroke-width:0.7px">For</text>
<text x="595.16" y="1304.8" class="b" font-size="15.7" textLength="43.43" lengthAdjust="spacingAndGlyphs" style="stroke-width:0.7px">Safety</text>
<text x="645.96" y="1304.8" class="b" font-size="15.7" textLength="55.16" lengthAdjust="spacingAndGlyphs" style="stroke-width:0.7px">consider</text>
<text x="711.12" y="1304.8" class="b" font-size="15.7" textLength="6.93" lengthAdjust="spacingAndGlyphs" style="stroke-width:0.7px">a</text>
<text x="725.86" y="1304.8" class="b" font-size="15.7" textLength="45.01" lengthAdjust="spacingAndGlyphs" style="stroke-width:0.7px">Margin</text>
<text x="779.29" y="1304.8" class="b" font-size="15.7" textLength="14.2" lengthAdjust="spacingAndGlyphs" style="stroke-width:0.7px">of</text>
<text x="800.2" y="1304.8" class="b" font-size="15.7" textLength="33.64" lengthAdjust="spacingAndGlyphs" style="stroke-width:0.7px">0.5m</text>
<text x="842.67" y="1304.8" class="b" font-size="15.7" textLength="43.26" lengthAdjust="spacingAndGlyphs" style="stroke-width:0.7px">Higher</text>
<text x="894.45" y="1304.8" class="b" font-size="15.7" textLength="17.77" lengthAdjust="spacingAndGlyphs" style="stroke-width:0.7px">for</text>
<text x="920.81" y="1304.8" class="b" font-size="15.7" textLength="36.08" lengthAdjust="spacingAndGlyphs" style="stroke-width:0.7px">NPSH</text>
<text x="811.39" y="1402.7" class="b" font-size="20.87" textLength="43.42" lengthAdjust="spacingAndGlyphs">1DIV</text>
<text x="863.58" y="1402.7" class="s" font-size="20.87" textLength="16.95" lengthAdjust="spacingAndGlyphs">=</text>
<text x="904.77" y="1402.7" class="s" font-size="20.87" textLength="24.9" lengthAdjust="spacingAndGlyphs">20</text>
<text x="941.1" y="1402.7" class="s" font-size="20.87" textLength="20.09" lengthAdjust="spacingAndGlyphs">m</text>
<text x="997.44" y="1402.7" class="s" font-size="20.87" textLength="21.25" lengthAdjust="spacingAndGlyphs">hr</text>
<text x="966.89" y="1392.8" class="s" font-size="17.57" textLength="8.91" lengthAdjust="spacingAndGlyphs">3</text>
<line x1="972.6" y1="1407.0" x2="982.8" y2="1386.4" stroke="#000" stroke-width="2.2"/>
<text x="130.75" y="1447.7" class="s" font-size="20.87" textLength="15.61" lengthAdjust="spacingAndGlyphs">Q</text>
<text x="157.09" y="1447.7" class="s" font-size="20.87" textLength="16.83" lengthAdjust="spacingAndGlyphs">=</text>
<text x="129.83" y="1478.3" class="s" font-size="20.87" textLength="16.42" lengthAdjust="spacingAndGlyphs">H</text>
<text x="157.09" y="1478.3" class="s" font-size="20.87" textLength="16.83" lengthAdjust="spacingAndGlyphs">=</text>
<text x="129.87" y="1513" class="s" font-size="20.87" textLength="14.91" lengthAdjust="spacingAndGlyphs">P</text>
<text x="156.12" y="1513" class="s" font-size="20.87" textLength="16.47" lengthAdjust="spacingAndGlyphs">=</text>
<text x="129.68" y="1546.3" class="s" font-size="20.87" textLength="44.54" lengthAdjust="spacingAndGlyphs">Eff=</text>
<text x="268.09" y="1447.7" class="s" font-size="20.87" textLength="20.21" lengthAdjust="spacingAndGlyphs">m</text>
<text x="284.44" y="1437.7" class="s" font-size="18.11" textLength="9.62" lengthAdjust="spacingAndGlyphs">3</text>
<line x1="291.2" y1="1451.5" x2="302.2" y2="1429.5" stroke="#000" stroke-width="2.2"/>
<text x="302.57" y="1447.7" class="s" font-size="20.87" textLength="19.59" lengthAdjust="spacingAndGlyphs">hr</text>
<text x="268.09" y="1478.3" class="s" font-size="20.87" textLength="20.21" lengthAdjust="spacingAndGlyphs">m</text>
<text x="268.31" y="1513" class="b" font-size="20.87" textLength="26.09" lengthAdjust="spacingAndGlyphs">kW</text>
<text x="271.31" y="1546.6" class="b" font-size="19.6" textLength="14.5" lengthAdjust="spacingAndGlyphs" style="stroke-width:0.8px">%</text>
<text x="136.96" y="1583.2" class="s" font-size="21.73" textLength="54.55" lengthAdjust="spacingAndGlyphs">Curve</text>
<text x="202.18" y="1583.2" class="s" font-size="21.73" textLength="40.64" lengthAdjust="spacingAndGlyphs">No.:</text>
<text x="340.49" y="1444.6" class="s" font-size="21.09" textLength="94.57" lengthAdjust="spacingAndGlyphs">Customer</text>
<text x="456.51" y="1444.6" class="b" font-size="22.35" textLength="10.09" lengthAdjust="spacingAndGlyphs">:</text>
<text x="339.73" y="1477.3" class="s" font-size="21.09" textLength="71.04" lengthAdjust="spacingAndGlyphs">Project</text>
<text x="456.51" y="1477.3" class="b" font-size="22.35" textLength="10.09" lengthAdjust="spacingAndGlyphs">:</text>
<text x="340.49" y="1512.9" class="s" font-size="21.09" textLength="104.87" lengthAdjust="spacingAndGlyphs">Consultant</text>
<text x="456.51" y="1512.9" class="b" font-size="22.35" textLength="10.09" lengthAdjust="spacingAndGlyphs">:</text>
<text x="387.51" y="1583.6" class="s" font-size="21.73" textLength="46.16" lengthAdjust="spacingAndGlyphs">Date</text>
<text x="443.21" y="1583.6" class="b" font-size="23.03" textLength="10.09" lengthAdjust="spacingAndGlyphs">:</text>
<text x="589.33" y="1582.2" class="s" font-size="21.3" textLength="88.66" lengthAdjust="spacingAndGlyphs">Prepared</text>
<text x="689.2" y="1582.2" class="b" font-size="22.58" textLength="7.01" lengthAdjust="spacingAndGlyphs">:</text>
<text x="699.08" y="1582.2" class="b" font-size="21.3" textLength="70.15" lengthAdjust="spacingAndGlyphs">MOHAN</text>
<text x="888.04" y="1582.2" class="s" font-size="21.73" textLength="82.2" lengthAdjust="spacingAndGlyphs">Checked</text>
<text x="980.08" y="1582.2" class="b" font-size="23.03" textLength="8.43" lengthAdjust="spacingAndGlyphs">:</text>
<text x="812.32" y="1451.6" class="s" font-size="21.09" textLength="76.44" lengthAdjust="spacingAndGlyphs">Impeller</text>
<text x="900.5" y="1451.6" class="s" font-size="21.09" textLength="34.21" lengthAdjust="spacingAndGlyphs">No.</text>
<text x="944.99" y="1451.6" class="b" font-size="22.35" textLength="7.72" lengthAdjust="spacingAndGlyphs">:</text>
<text x="967.75" y="1451.6" class="s" font-size="21.09" textLength="60.23" lengthAdjust="spacingAndGlyphs">C84–I</text>
<text x="813.24" y="1496.8" class="s" font-size="21.09" textLength="65.21" lengthAdjust="spacingAndGlyphs">Casing</text>
<text x="889.23" y="1496.8" class="s" font-size="21.09" textLength="33.65" lengthAdjust="spacingAndGlyphs">No.</text>
<text x="944.99" y="1496.8" class="b" font-size="22.35" textLength="7.72" lengthAdjust="spacingAndGlyphs">:</text>
<text x="967.75" y="1496.8" class="s" font-size="21.09" textLength="141.7" lengthAdjust="spacingAndGlyphs">C150/260–VC</text>
<text x="812.91" y="1542.8" class="b" font-size="21.09" textLength="91.54" lengthAdjust="spacingAndGlyphs">IMPELLER</text>
<text x="916.34" y="1542.8" class="b" font-size="21.09" textLength="32.84" lengthAdjust="spacingAndGlyphs">DIA</text>
<text x="958.68" y="1542.8" class="b" font-size="22.35" textLength="9.14" lengthAdjust="spacingAndGlyphs">:</text>
<text x="1077.47" y="1542.8" class="s" font-size="21.09" textLength="38.35" lengthAdjust="spacingAndGlyphs">mm</text>
</g>
</svg>
</body></html>
